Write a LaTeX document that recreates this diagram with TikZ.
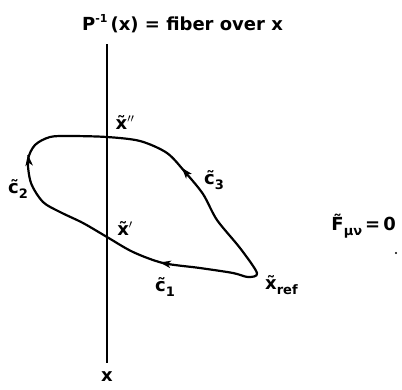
\documentclass[tikz,border=0pt]{standalone}
\usepackage{fontspec}
\setmainfont{DejaVu Sans}
\usetikzlibrary{arrows.meta}
\tikzset{
  lbl/.style={inner sep=0pt, font=\fontsize{18}{18}\selectfont\bfseries},
  curve/.style={line width=2.2pt, line join=round},
  arr/.style={line width=1.2pt, -{Stealth[length=11pt,width=7.5pt,inset=3pt]}},
}
\newcommand{\sub}[1]{\raisebox{-5pt}{\fontsize{13}{13}\selectfont #1}}
\begin{document}
\begin{tikzpicture}[x=1pt,y=1pt]
\useasboundingbox (0,0) rectangle (402,-389);
% fiber line
\coordinate (ftop) at (107,-44);
\coordinate (fbot) at (107,-363);
\draw[line width=2.2pt] (ftop) -- (fbot);
\node[lbl, anchor=west] (title) at (82,-24) {P\raisebox{8pt}{\fontsize{11}{11}\selectfont -1}\,(x) = fiber over x};
\node[lbl] (xlab) at (107,-377) {x};
% loop
\coordinate (xref) at (257,-273);
\coordinate (xp) at (107,-237);
\coordinate (xpp) at (107,-137);
\draw[curve] plot[smooth cycle, tension=0.5] coordinates {
  (257,-273) (248,-277) (233,-273) (200,-268) (163,-263) (133,-252)
  (107,-237) (83,-223) (60,-212) (43,-202) (31,-183) (28,-160)
  (35,-145) (50,-137) (70,-136) (107,-137) (140,-141) (167,-153)
  (185,-172) (203,-194) (217,-220) (240,-248)};
% arrowheads
\draw[arr] (160,-262.5) -- ++(170:0.1pt);
\draw[arr] (28,-155) -- ++(96:0.1pt);
\draw[arr] (182,-168) -- ++(130:0.1pt);
% labels
\node[lbl] (lxpp) at (125,-122) {\~{x}$''$};
\node[lbl] (lxp) at (125,-228) {\~{x}$'$};
\node[lbl] (lc1) at (165,-287) {\~{c}\sub{1}};
\node[lbl] (lc2) at (18,-189) {\~{c}\sub{2}};
\node[lbl] (lc3) at (214,-180) {\~{c}\sub{3}};
\node[lbl, anchor=west] (lxref) at (265,-285) {\~{x}\sub{ref}};
\node[lbl, anchor=east] (lF) at (396,-226) {\~{F}\sub{μν}\,=\,0};
\fill (396,-253) circle (1.2pt);
\end{tikzpicture}
\end{document}
